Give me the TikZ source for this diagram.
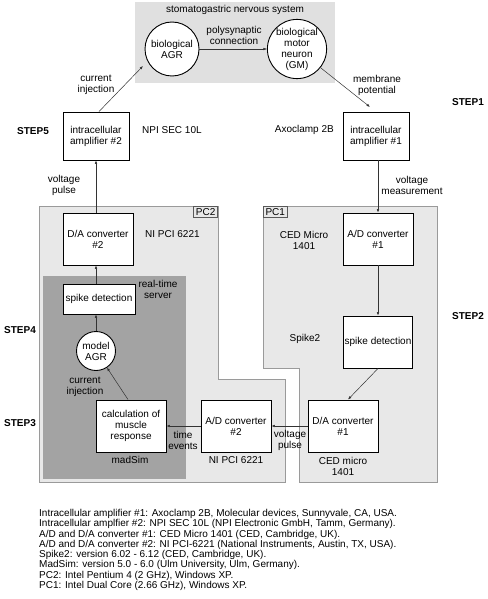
\documentclass[tikz,border=0pt]{standalone}
\usepackage{fontspec}
\setmainfont{Liberation Sans}
\usetikzlibrary{arrows.meta}
\definecolor{sngray}{HTML}{E0E0E0}
\definecolor{pcgray}{HTML}{E8E8E8}
\definecolor{pcline}{HTML}{9A9A9A}
\definecolor{rtgray}{HTML}{A3A3A3}

\begin{document}
\begin{tikzpicture}[x=1pt, y=-1pt,
    font=\fontsize{10}{11}\selectfont,
    unit/.style={draw, line width=0.9pt, fill=white, align=center, inner sep=1pt},
    neuron/.style={draw, circle, line width=0.9pt, fill=white, align=center, inner sep=0pt},
    link/.style={-{Latex[length=3.5pt,width=2.6pt]}, line width=0.5pt, draw=black!80},
    lbl/.style={align=center, inner sep=0pt},
    pctag/.style={draw=black!65, line width=0.6pt, inner sep=0pt, minimum width=24, minimum height=11},
    stepname/.style={font=\fontsize{10}{11}\selectfont\bfseries}]

\useasboundingbox (0,0) rectangle (487,599);

% stomatogastric nervous system
\fill[sngray] (135,2) rectangle (335,83);
\node[lbl] (stng) at (235,10) {stomatogastric nervous system};
\node[neuron, minimum size=54] (agr) at (172,49) {biological\\AGR};
\node[neuron, minimum size=54] (gm) at (297,49) {biological\\motor\\neuron\\(GM)};
\draw[link] (agr) -- (gm);
\node[lbl] (poly) at (234,35) {polysynaptic\\connection};

% PC areas
\filldraw[fill=pcgray, draw=pcline, line width=0.7pt]
    (39,206) -- (218,206) -- (218,379) -- (285,379) -- (285,482) -- (39,482) -- cycle;
\filldraw[fill=pcgray, draw=pcline, line width=0.7pt]
    (263,206) -- (437,206) -- (437,482) -- (299,482) -- (299,368) -- (263,368) -- cycle;
\node[pctag, anchor=north east] (pc2) at (218,206) {PC2};
\node[pctag, anchor=north west] (pc1) at (263,206) {PC1};
\fill[rtgray] (43,276) rectangle (186,479);

% amplifiers
\node[unit, minimum width=66, minimum height=48] (amp2) at (96,136) {intracellular\\amplifier \#2};
\node[unit, minimum width=66, minimum height=48] (amp1) at (376,136) {intracellular\\amplifier \#1};

% PC2 units
\node[unit, minimum width=70, minimum height=52] (da2) at (98,239) {D/A converter\\\#2};
\node[unit, minimum width=72, minimum height=30] (spk0) at (99,299) {spike detection};
\node[neuron, minimum size=39] (magr) at (96,351) {model\\AGR};
\node[unit, minimum width=70, minimum height=52] (calc) at (131,426) {calculation of\\muscle\\response};
\node[unit, minimum width=70, minimum height=52] (ad2) at (236,426) {A/D converter\\\#2};

% PC1 units
\node[unit, minimum width=70, minimum height=52] (ad1) at (378,239) {A/D converter\\\#1};
\node[unit, minimum width=69, minimum height=52] (spk1) at (378,342) {spike detection};
\node[unit, minimum width=70, minimum height=52] (da1) at (343,426) {D/A converter\\\#1};

% connections
\coordinate (inj) at (143,66);
\coordinate (mp) at (370,107);
\draw[link] ([xshift=3]amp2.north) -- (inj);
\draw[link] (gm) -- (mp);
\draw[link] (ad1.north |- amp1.south) -- (ad1.north);
\draw[link] (ad1.south) -- (spk1.north);
\draw[link] (spk1.south) -- ([xshift=5]da1.north);
\draw[link] (da1.west) -- (ad2.east);
\draw[link] (ad2.west) -- (calc.east);
\draw[link] ([xshift=-3]calc.north) -- (magr);
\draw[link] (magr.north) -- (magr.north |- spk0.south);
\draw[link] (magr.north |- spk0.north) -- (magr.north |- da2.south);
\draw[link] (magr.north |- da2.north) -- (magr.north |- amp2.south);

% labels
\node[lbl] (lcur) at (96,85) {current\\injection};
\node[lbl] (lmem) at (377,85) {membrane\\potential};
\node[lbl] (lvp) at (64,185) {voltage\\pulse};
\node[lbl] (lvm) at (412,185) {voltage\\measurement};
\node[lbl, anchor=west] (lnpi) at (142,130) {NPI SEC 10L};
\node[lbl, anchor=east] (laxo) at (334,130) {Axoclamp 2B};
\node[lbl, anchor=west] (lni) at (145,234) {NI PCI 6221};
\node[lbl] (lced) at (304,240) {CED Micro\\1401};
\node[lbl] (lrt) at (158,289) {real-time\\server};
\node[lbl] (lspk) at (305,339) {Spike2};
\node[lbl] (lcur2) at (85,387) {current\\injection};
\node[lbl] (lmad) at (130,460) {madSim};
\node[lbl] (ltime) at (183,440) {time\\events};
\node[lbl] (lni2) at (236,460) {NI PCI 6221};
\node[lbl] (lvp2) at (290,440) {voltage\\pulse};
\node[lbl] (lced2) at (343,466) {CED micro\\1401};

% steps
\node[stepname] (s1) at (468,102) {STEP1};
\node[stepname] (s2) at (468,316) {STEP2};
\node[stepname] (s3) at (20,423) {STEP3};
\node[stepname] (s4) at (20,330) {STEP4};
\node[stepname] (s5) at (33,131) {STEP5};

% notes
\node[anchor=north west, inner sep=0pt, align=left, font=\fontsize{10}{10.3}\selectfont] (notes) at (39,509) {%
Intracellular amplifier \#1: Axoclamp 2B, Molecular devices, Sunnyvale, CA, USA.\\
Intracellular amplfier \#2: NPI SEC 10L (NPI Electronic GmbH, Tamm, Germany).\\
A/D and D/A converter \#1: CED Micro 1401 (CED, Cambridge, UK).\\
A/D and D/A converter \#2: NI PCI-6221 (National Instruments, Austin, TX, USA).\\
Spike2: version 6.02 - 6.12 (CED, Cambridge, UK).\\
MadSim: version 5.0 - 6.0 (Ulm University, Ulm, Germany).\\
PC2: Intel Pentium 4 (2 GHz), Windows XP.\\
PC1: Intel Dual Core (2.66 GHz), Windows XP.};
\end{tikzpicture}
\end{document}
